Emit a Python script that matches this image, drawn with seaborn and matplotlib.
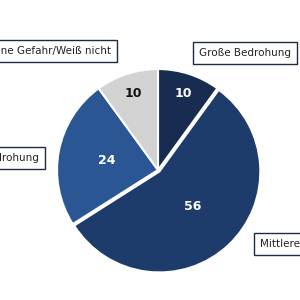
import matplotlib
matplotlib.use("Agg")
import matplotlib.pyplot as plt
import seaborn as sns
import numpy as np

sns.set_theme(style="white")
plt.rcParams['font.family'] = ['DejaVu Sans']

categories = ["Große Bedrohung", "Mittlere Bedrohung", "Geringe Bedrohung", "Keine Gefahr/Weiß nicht"]
values = [10, 56, 24, 10]
colors = ["#172c50", "#1e3c6b", "#2a5794", "#d2d2d2"]
value_colors = ["white", "white", "white", "#111111"]
label_radius = [0.8, 0.5, 0.52, 0.8]
explode = [0.0, 0.02, 0.0, 0.0]

fig = plt.figure(figsize=(3, 3), dpi=100)
fig.patch.set_facecolor("white")
ax = fig.add_axes([54/300, (300-170-104)/300, 208/300, 208/300])
wedges, _ = ax.pie(values, colors=colors, startangle=90, counterclock=False,
                   explode=explode, radius=1.0,
                   wedgeprops=dict(edgecolor="white", linewidth=1.5))
ax.set_xlim(-1.03, 1.03)
ax.set_ylim(-1.03, 1.03)
ax.set_aspect("equal")
ax.axis("off")

for w, v, c, r in zip(wedges, values, value_colors, label_radius):
    ang = np.deg2rad((w.theta1 + w.theta2) / 2)
    ax.text(r * np.cos(ang), r * np.sin(ang), str(v), ha="center", va="center",
            color=c, fontsize=9, fontweight="bold")

box = dict(boxstyle="square,pad=0.55", facecolor="white", edgecolor="#1e2a40", linewidth=1.0)
label_pos = [(245/300, 1-53/300, "center"), (260/300, 1-244/300, "left"),
             (39/300, 1-158/300, "right"), (111/300, 1-51/300, "right")]
for cat, (x, y, ha) in zip(categories, label_pos):
    fig.text(x, y, cat, ha=ha, va="center", fontsize=7.5, color="#222222", bbox=box)

fig.savefig("out.png", dpi=100, facecolor="white")
